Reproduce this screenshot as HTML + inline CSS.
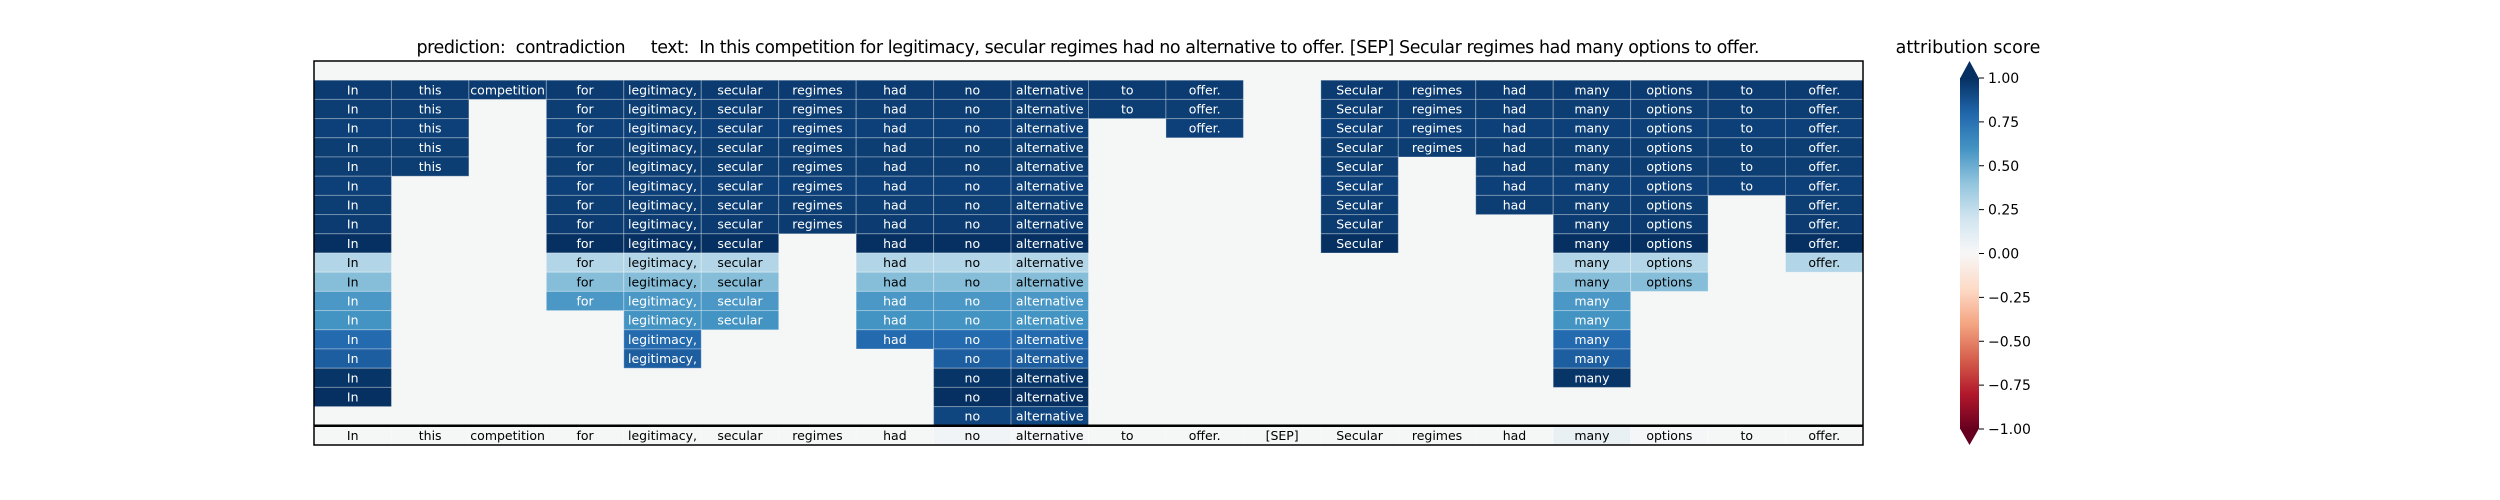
<!DOCTYPE html>
<html><head><meta charset="utf-8"><style>
html,body{margin:0;padding:0;background:#fff;width:2500px;height:500px;overflow:hidden}
svg{display:block;font-family:"DejaVu Sans","Liberation Sans",sans-serif}
</style></head><body>
<svg id="chart" width="2500" height="500" viewBox="0 0 2500 500" xmlns="http://www.w3.org/2000/svg">
<text x="1088" y="53" font-size="17.5" text-anchor="middle" style="white-space:pre" textLength="1343" lengthAdjust="spacing">prediction:  contradiction     text:  In this competition for legitimacy, secular regimes had no alternative to offer. [SEP] Secular regimes had many options to offer.</text>
<text x="1968" y="53" font-size="17.5" text-anchor="middle">attribution score</text>
<g id="cells"></g>
<g id="bottom"></g>
<rect x="314" y="61" width="1549" height="384" fill="none" stroke="#000" stroke-width="1.5"/>
<line x1="314" x2="1863" y1="425.8" y2="425.8" stroke="#000" stroke-width="2.5"/>
<defs><linearGradient id="cbgrad" x1="0" y1="1" x2="0" y2="0"></linearGradient></defs>
<g id="colorbar"></g>
</svg>
<script>
const tokens=["In","this","competition","for","legitimacy,","secular","regimes","had","no","alternative","to","offer.","[SEP]","Secular","regimes","had","many","options","to","offer."];
const _=null;
const row1 =[0.96,0.96,0.96,0.96,0.96,0.96,0.96,0.96,0.96,0.96,0.96,0.96,_,0.96,0.96,0.96,0.96,0.96,0.96,0.96];
const row2 =[0.95,0.95,_,0.95,0.95,0.95,0.95,0.95,0.95,0.95,0.95,0.95,_,0.95,0.95,0.95,0.95,0.95,0.95,0.95];
const row3 =[0.94,0.94,_,0.94,0.94,0.94,0.94,0.94,0.94,0.94,_,0.94,_,0.94,0.94,0.94,0.94,0.94,0.94,0.94];
const row4 =[0.95,0.95,_,0.95,0.95,0.95,0.95,0.95,0.95,0.95,_,_,_,0.95,0.95,0.95,0.95,0.95,0.95,0.95];
const row5 =[0.95,0.95,_,0.95,0.95,0.95,0.95,0.95,0.95,0.95,_,_,_,0.95,_,0.95,0.95,0.95,0.95,0.95];
const row6 =[0.94,_,_,0.94,0.94,0.94,0.94,0.94,0.94,0.94,_,_,_,0.94,_,0.94,0.94,0.94,0.94,0.94];
const row7 =[0.95,_,_,0.95,0.95,0.95,0.95,0.95,0.95,0.95,_,_,_,0.95,_,0.95,0.95,0.95,_,0.95];
const row8 =[0.96,_,_,0.96,0.96,0.96,0.96,0.96,0.96,0.96,_,_,_,0.96,_,_,0.96,0.96,_,0.96];
const row9 =[1.0,_,_,1.0,1.0,1.0,_,1.0,1.0,1.0,_,_,_,1.0,_,_,1.0,1.0,_,1.0];
const row10=[0.3,_,_,0.3,0.3,0.3,_,0.3,0.3,0.3,_,_,_,_,_,_,0.3,0.3,_,0.3];
const row11=[0.43,_,_,0.43,0.43,0.43,_,0.43,0.43,0.43,_,_,_,_,_,_,0.43,0.43,_,_];
const row12=[0.58,_,_,0.58,0.58,0.58,_,0.58,0.58,0.58,_,_,_,_,_,_,0.58,_,_,_];
const row13=[0.6,_,_,_,0.6,0.6,_,0.6,0.6,0.6,_,_,_,_,_,_,0.6,_,_,_];
const row14=[0.78,_,_,_,0.78,_,_,0.78,0.78,0.78,_,_,_,_,_,_,0.78,_,_,_];
const row15=[0.83,_,_,_,0.83,_,_,_,0.83,0.83,_,_,_,_,_,_,0.83,_,_,_];
const row16=[0.98,_,_,_,_,_,_,_,0.98,0.98,_,_,_,_,_,_,0.98,_,_,_];
const row17=[1.0,_,_,_,_,_,_,_,1.0,1.0,_,_,_,_,_,_,_,_,_,_];
const row18=[_,_,_,_,_,_,_,_,0.92,0.92,_,_,_,_,_,_,_,_,_,_];
const summaryRow=[0,0,0,0,0,0,0,0,0.03,0.01,0,0,0,0,0,0,0.08,0.01,0,0];
const cbTicks=[1,0.75,0.5,0.25,0,-0.25,-0.5,-0.75,-1];
const cbLabels=["1.00","0.75","0.50","0.25","0.00","\u22120.25","\u22120.50","\u22120.75","\u22121.00"];

const rows=[row1,row2,row3,row4,row5,row6,row7,row8,row9,row10,row11,row12,row13,row14,row15,row16,row17,row18];
const NS="http://www.w3.org/2000/svg";
const stops=["#67001f","#b2182b","#d6604d","#f4a582","#fddbc7","#f7f7f7","#d1e5f0","#92c5de","#4393c3","#2166ac","#053061"];
function hex(h){return [1,3,5].map(i=>parseInt(h.substr(i,2),16));}
function cmap(v){let t=(Math.max(-1,Math.min(1,v))+1)/2*10;let i=Math.min(9,Math.floor(t));let f=t-i;let a=hex(stops[i]),b=hex(stops[i+1]);return "rgb("+a.map((c,k)=>Math.round(c+(b[k]-c)*f)).join(",")+")";}
const X0=314,W=1549,Y0=61,H=384,NC=20,NR=20;
const cw=W/NC,rh=H/NR;
const xS=c=>X0+c*cw, yS=r=>Y0+r*rh;
const cells=document.getElementById('cells');
const bg=document.createElementNS(NS,'rect');


bg.setAttribute('x',X0);bg.setAttribute('y',Y0);bg.setAttribute('width',W);bg.setAttribute('height',rh*19);bg.setAttribute('fill','#f5f6f6');
cells.appendChild(bg);
function addCell(parent,r,c,v,showText,nm){
  const rc=document.createElementNS(NS,'rect');
  
  
  rc.setAttribute('x',xS(c));rc.setAttribute('y',yS(r));rc.setAttribute('width',cw);rc.setAttribute('height',rh);
  rc.setAttribute('fill',v===0?'#f5f6f6':cmap(v));rc.setAttribute('stroke','rgba(255,255,255,0.3)');rc.setAttribute('stroke-width','1');
  parent.appendChild(rc);
  if(showText){
    const t=document.createElementNS(NS,'text');
    
    
    t.setAttribute('x',xS(c)+cw/2);t.setAttribute('y',yS(r)+rh/2+4.5);
    t.setAttribute('text-anchor','middle');t.setAttribute('font-size','12.5');
    t.setAttribute('fill',Math.abs(v)>0.5?'#fff':'#000');
    t.textContent=tokens[c];
    parent.appendChild(t);
  }
}
rows.forEach((row,ri)=>{row.forEach((v,c)=>{if(v!==null)addCell(cells,ri+1,c,v,true,'heatmap-cell');});});
const bottom=document.getElementById('bottom');
summaryRow.forEach((v,c)=>addCell(bottom,19,c,v,true,'summary-cell'));
const grad=document.getElementById('cbgrad');
for(let i=0;i<=20;i++){const s=document.createElementNS(NS,'stop');s.setAttribute('offset',i/20);s.setAttribute('stop-color',cmap(-1+i/10));grad.appendChild(s);}
const cb=document.getElementById('colorbar');
const CBX=1960,CBW=19,CBT=78,CBB=429;
const cbY=v=>CBB-(v+1)/2*(CBB-CBT);
const bar=document.createElementNS(NS,'rect');


bar.setAttribute('x',CBX);bar.setAttribute('y',CBT);bar.setAttribute('width',CBW);bar.setAttribute('height',CBB-CBT);bar.setAttribute('fill','url(#cbgrad)');
cb.appendChild(bar);
const up=document.createElementNS(NS,'polygon');


up.setAttribute('points',`${CBX},${CBT+0.5} ${CBX+CBW},${CBT+0.5} ${CBX+CBW/2},61`);up.setAttribute('fill',cmap(1));
cb.appendChild(up);
const dn=document.createElementNS(NS,'polygon');


dn.setAttribute('points',`${CBX},${CBB-0.5} ${CBX+CBW},${CBB-0.5} ${CBX+CBW/2},445`);dn.setAttribute('fill',cmap(-1));
cb.appendChild(dn);
cbTicks.forEach((v,i)=>{
  const y=cbY(v);
  const l=document.createElementNS(NS,'line');
  
  
  l.setAttribute('x1',CBX+CBW);l.setAttribute('x2',CBX+CBW+5);l.setAttribute('y1',y);l.setAttribute('y2',y);l.setAttribute('stroke','#000');l.setAttribute('stroke-width','1');
  cb.appendChild(l);
  const t=document.createElementNS(NS,'text');
  
  
  t.setAttribute('x',CBX+CBW+9);t.setAttribute('y',y+5);t.setAttribute('font-size','14');
  t.textContent=cbLabels[i];
  cb.appendChild(t);
});
</script>
</body></html>
